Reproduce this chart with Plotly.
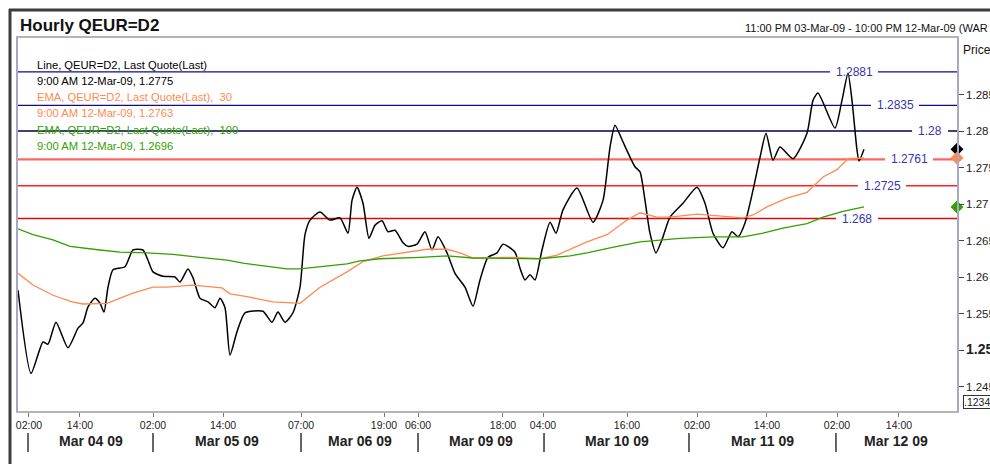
import plotly.graph_objects as go

# ---------------- data (bar index on x, price on y) ----------------
close_x = [0, 2.17, 4.17, 5.0, 6.33, 8.33, 10, 10.83, 11.67, 12.83, 13.67, 14.33, 15, 15.83, 17.83,
           19.17, 20.83, 21.67, 22.5, 24.17, 26.17, 27, 28.33, 29.17, 30.33, 31.67, 32.83, 33.67,
           34.5, 35.33, 36.5, 37.83, 40.83, 42.33, 43.33, 44.5, 45.83, 47, 47.83, 48.67, 50.33, 52,
           53.67, 55, 55.67, 56.5, 57.5, 58.5, 59.5, 60.67, 61.67, 62.83, 64.17, 65, 66.5, 67.83,
           69, 70, 71.5, 72.83, 74.5, 75.83, 77, 78.33, 79.83, 80.83, 82.83, 83.67, 84.5, 85.33,
           86.17, 87.33, 88.67, 89.67, 90.83, 93.17, 95.83, 97.5, 98.67, 99.5, 100.67, 101.67,
           102.83, 103.67, 104.5, 105.33, 106.33, 107.33, 108.67, 110.83, 113.17, 114.5, 115.83,
           117.5, 119, 120, 121.17, 122.5, 123.67, 124.67, 125.83, 127, 129.17, 131.5, 132.5,
           133.33, 136.17, 137.33, 138.33, 139, 139.83, 140.17, 141]
close_y = [1.2582, 1.2468, 1.2511, 1.2508, 1.2538, 1.2503, 1.2530, 1.2537, 1.2559, 1.2571, 1.2564,
           1.2552, 1.2586, 1.2610, 1.2614, 1.2637, 1.2637, 1.2623, 1.2607, 1.2601, 1.2600, 1.2593,
           1.2611, 1.2599, 1.2571, 1.2566, 1.2558, 1.2571, 1.2558, 1.2493, 1.2525, 1.2551, 1.2553,
           1.2538, 1.2552, 1.2538, 1.2551, 1.2586, 1.2658, 1.2678, 1.2689, 1.2678, 1.2681, 1.2660,
           1.2705, 1.2723, 1.2701, 1.2653, 1.2671, 1.2677, 1.2662, 1.2664, 1.2647, 1.2642, 1.2645,
           1.2662, 1.2637, 1.2655, 1.2633, 1.2605, 1.2586, 1.2560, 1.2596, 1.2627, 1.2633, 1.2645,
           1.2634, 1.2612, 1.2596, 1.2603, 1.2596, 1.2637, 1.2675, 1.2660, 1.2692, 1.2722, 1.2675,
           1.2705, 1.2778, 1.2808, 1.2788, 1.2770, 1.2751, 1.2744, 1.2705, 1.2660, 1.2633, 1.2651,
           1.2682, 1.2701, 1.2723, 1.2701, 1.2660, 1.2640, 1.2662, 1.2655, 1.2674, 1.2719, 1.2764,
           1.2797, 1.2760, 1.2778, 1.2762, 1.2797, 1.2842, 1.2852, 1.2804, 1.2842, 1.2879, 1.2842,
           1.2774, 1.2759, 1.2775]

ema30_x = [0, 2.5, 5.83, 9, 10.83, 14.83, 19.17, 22.5, 24.83, 29.17, 34, 35.33, 38.17, 42.5, 47,
           50.33, 54.83, 57.5, 60.83, 64.83, 68.17, 71.5, 73.67, 75.83, 79.83, 82.5, 87, 89.83,
           94.83, 98.17, 101.5, 103.67, 106.5, 108.67, 113.17, 116.5, 120.83, 122.5, 124.83,
           128.17, 131.5, 134.17, 136.5, 138.33, 141]
ema30_y = [1.2605, 1.2589, 1.2575, 1.2566, 1.2563, 1.2564, 1.2578, 1.2586, 1.2586, 1.2589, 1.2585,
           1.2577, 1.2573, 1.2566, 1.2564, 1.2586, 1.2607, 1.2621, 1.2629, 1.2634, 1.2638, 1.2638,
           1.2633, 1.2626, 1.2626, 1.2627, 1.2625, 1.2630, 1.2648, 1.2658, 1.2678, 1.2688, 1.2682,
           1.2682, 1.2686, 1.2684, 1.2681, 1.2685, 1.2696, 1.2708, 1.2716, 1.2737, 1.2747, 1.2762,
           1.2763]

ema100_x = [0, 2.5, 5.83, 8.67, 13.67, 17, 21.5, 25.83, 30.33, 34.83, 37.5, 40.33, 44.83, 47,
            50.33, 54.83, 57, 60.33, 67, 71.5, 75.83, 79.83, 87, 92, 94.83, 98.67, 103.67, 110.33,
            115.83, 120.83, 124.17, 127.5, 131.5, 134.17, 137.5, 141]
ema100_y = [1.2666, 1.2658, 1.2651, 1.2642, 1.2637, 1.2634, 1.2633, 1.2631, 1.2627, 1.2623, 1.2619,
            1.2616, 1.2611, 1.2611, 1.2614, 1.2618, 1.2622, 1.2625, 1.2627, 1.2629, 1.2626, 1.2626,
            1.2625, 1.2629, 1.2633, 1.2640, 1.2648, 1.2653, 1.2655, 1.2655, 1.2660, 1.2667, 1.2673,
            1.2682, 1.2690, 1.2696]

levels = [1.2881, 1.2835, 1.28, 1.2761, 1.2725, 1.268]
level_labels = ["1.2881", "1.2835", "1.28", "1.2761", "1.2725", "1.268"]

time_tick_pos = [1.83, 10.33, 22.5, 34.17, 47.17, 61, 66.67, 80.83, 87.5, 101.5, 113.17, 124.83,
                 136.5, 146.83]
time_tick_text = ["02:00", "14:00", "02:00", "14:00", "07:00", "19:00", "06:00", "18:00", "04:00",
                  "16:00", "02:00", "14:00", "02:00", "14:00"]
day_bounds = [1.67, 22.5, 47.17, 66.67, 87.67, 111.83, 136.33, 156.5]
day_labels = ["Mar 04 09", "Mar 05 09", "Mar 06 09", "Mar 09 09", "Mar 10 09", "Mar 11 09", "Mar 12 09"]

price_ticks = [1.245, 1.25, 1.255, 1.26, 1.265, 1.27, 1.275, 1.28, 1.285]
price_tick_text = ["1.245", "<b><span style='font-size:14px'>1.25</span></b>", "1.255", "1.26",
                   "1.265", "1.27", "1.275", "1.28", "1.285"]

legend_lines = ["Line, QEUR=D2, Last Quote(Last)", "9:00 AM 12-Mar-09, 1.2775",
                "EMA, QEUR=D2, Last Quote(Last),  30", "9:00 AM 12-Mar-09, 1.2763",
                "EMA, QEUR=D2, Last Quote(Last),  100", "9:00 AM 12-Mar-09, 1.2696"]

# ---------------- layout / style ----------------
X_RANGE = [0, 156.5]
Y_RANGE = [1.241644, 1.29274]
L, R, T, B = 18, 957, 38, 411     # plot area in window pixels
W, H = 990, 464
FONT = "Liberation Sans, Arial, sans-serif"
C_CLOSE, C_EMA30, C_EMA100 = "#000000", "#ff8a50", "#33a000"


def px(x):
    return (x - L) / (R - L)


def py(y):
    return (B - y) / (B - T)


fig = go.Figure()

fig.add_trace(go.Scatter(x=close_x, y=close_y, mode="lines",
                         line=dict(color=C_CLOSE, width=1.5, shape="spline", smoothing=0.6)))
fig.add_trace(go.Scatter(x=ema30_x, y=ema30_y, mode="lines", line=dict(color=C_EMA30, width=1.3)))
fig.add_trace(go.Scatter(x=ema100_x, y=ema100_y, mode="lines", line=dict(color=C_EMA100, width=1.3)))

# last-value diamonds on the price axis
fig.add_trace(go.Scatter(x=[X_RANGE[1]] * 3, y=[close_y[-1], ema30_y[-1], ema100_y[-1]],
                         mode="markers", cliponaxis=False,
                         marker=dict(symbol="diamond", size=10, color=[C_CLOSE, C_EMA30, C_EMA100])))

shapes = []
annotations = []

level_colors = ["#0c0c88", "#0c0c88", "#00004a", "#ff6464", "#ff2020", "#e00808"]
level_widths = [1.3, 1.3, 1.3, 2.2, 1.5, 1.5]
label_cx = [854, 895, 930, 909, 882, 857]
label_w = [48, 48, 36, 48, 48, 42]
for lv, lab, col, lw, cx, w in zip(levels, level_labels, level_colors, level_widths, label_cx, label_w):
    shapes.append(dict(type="line", xref="paper", yref="y", x0=0, x1=1, y0=lv, y1=lv,
                       line=dict(color=col, width=lw), layer="below"))
    shapes.append(dict(type="rect", xref="paper", yref="y", x0=px(cx - w / 2), x1=px(cx + w / 2),
                       y0=lv - 0.0003, y1=lv + 0.0003, fillcolor="white", line=dict(width=0),
                       layer="below"))
    annotations.append(dict(text=lab, xref="paper", yref="y", x=px(cx), y=lv, showarrow=False,
                            xanchor="center", yanchor="middle",
                            font=dict(family=FONT, size=12, color="#3535b0")))

# day separators and labels under the time axis
for xb in day_bounds[:-1]:
    shapes.append(dict(type="line", xref="x", yref="paper", x0=xb, x1=xb, y0=py(433), y1=py(452),
                       line=dict(color="#333333", width=1.5)))
for i, lab in enumerate(day_labels):
    annotations.append(dict(text="<b>" + lab + "</b>", xref="x", yref="paper",
                            x=(day_bounds[i] + day_bounds[i + 1]) / 2, y=py(441), showarrow=False,
                            xanchor="center", yanchor="middle",
                            font=dict(family=FONT, size=14, color="#222222")))

# outer dark frame
shapes.append(dict(type="line", xref="paper", yref="paper", x0=px(9), x1=px(995), y0=py(10), y1=py(10),
                   line=dict(color="#3c3c3c", width=3)))
shapes.append(dict(type="line", xref="paper", yref="paper", x0=px(10), x1=px(10), y0=py(9), y1=py(470),
                   line=dict(color="#3c3c3c", width=3)))

# legend text
legend_colors = [C_CLOSE, C_CLOSE, C_EMA30, C_EMA30, C_EMA100, C_EMA100]
legend_y = [65, 81, 97, 113, 129.5, 146]
for txt, col, yy in zip(legend_lines, legend_colors, legend_y):
    annotations.append(dict(text=txt, xref="paper", yref="paper", x=px(35), y=py(yy), showarrow=False,
                            xanchor="left", yanchor="middle",
                            font=dict(family=FONT, size=11.2, color=col)))

# title and header
annotations.append(dict(text="<b>Hourly QEUR=D2</b>", xref="paper", yref="paper", x=px(18), y=py(26),
                        showarrow=False, xanchor="left", yanchor="middle",
                        font=dict(family=FONT, size=17, color="#111111")))
annotations.append(dict(text="11:00 PM 03-Mar-09 - 10:00 PM 12-Mar-09 (WAR", xref="paper",
                        yref="paper", x=px(743), y=py(28), showarrow=False, xanchor="left",
                        yanchor="middle", font=dict(family=FONT, size=11, color="#111111")))
annotations.append(dict(text="Price", xref="paper", yref="paper", x=px(961), y=py(50),
                        showarrow=False, xanchor="left", yanchor="middle",
                        font=dict(family=FONT, size=12, color="#111111")))
annotations.append(dict(text=".12345", xref="paper", yref="paper", x=px(963), y=py(402),
                        showarrow=False, xanchor="left", yanchor="middle", bgcolor="white",
                        bordercolor="#333333", borderwidth=1, borderpad=0,
                        font=dict(family=FONT, size=10.5, color="#222222")))

fig.update_layout(
    width=W, height=H, autosize=False,
    margin=dict(l=L, r=W - R, t=T, b=H - B, pad=0),
    paper_bgcolor="white", plot_bgcolor="white",
    showlegend=False,
    font=dict(family=FONT, size=11, color="#222222"),
    shapes=shapes, annotations=annotations,
    xaxis=dict(range=X_RANGE, tickmode="array", tickvals=time_tick_pos, ticktext=time_tick_text,
               showgrid=False, zeroline=False, showline=True, linecolor="#b4b4b4", linewidth=1.5,
               mirror=True, ticks="outside", ticklen=4, tickcolor="#777777", tickwidth=1,
               tickfont=dict(family=FONT, size=10.5, color="#222222"), automargin=False,
               fixedrange=True),
    yaxis=dict(range=Y_RANGE, side="right", tickmode="array", tickvals=price_ticks,
               ticktext=price_tick_text, showgrid=False, zeroline=False, showline=True,
               linecolor="#a8a8c4", linewidth=1.5, mirror=True, ticks="outside", ticklen=5,
               tickcolor="#444444", tickfont=dict(family=FONT, size=11.5, color="#222222"),
               automargin=False, fixedrange=True),
)

# remove the page's default body margin so the figure fills the window exactly
fig.write_html("out.html", config={"displayModeBar": False},
               post_script="document.documentElement.style.margin='0';document.body.style.margin='0';"
                           "document.body.style.padding='0';")
